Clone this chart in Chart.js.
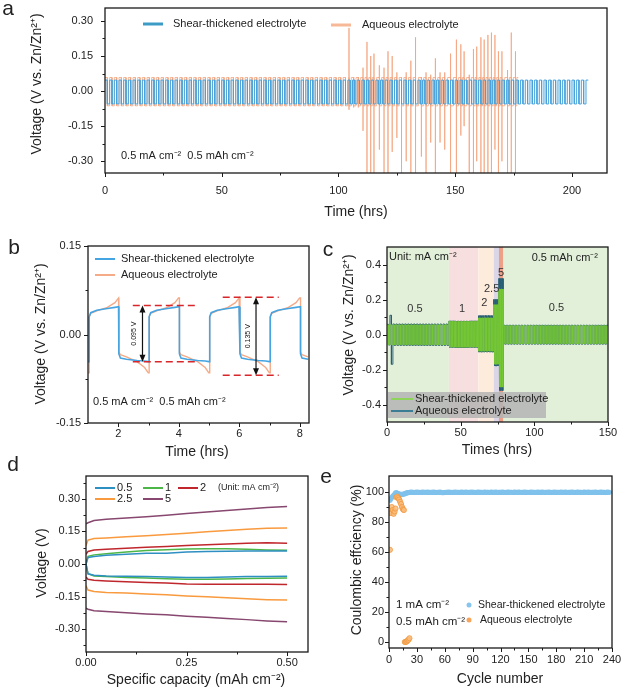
<!DOCTYPE html>
<html>
<head>
<meta charset="utf-8">
<script src="https://cdn.jsdelivr.net/npm/chart.js@4.4.1/dist/chart.umd.min.js"></script>
<style>
  html, body { margin: 0; padding: 0; background: #fff; }
  #fig { position: relative; width: 623px; height: 691px; overflow: hidden; }
  canvas { position: absolute; }
</style>
</head>
<body>
<div id="fig">
  <canvas id="panelA" width="623" height="228" style="left:0;top:0"></canvas>
  <canvas id="panelB" width="318" height="235" style="left:0;top:230px"></canvas>
  <canvas id="panelC" width="305" height="235" style="left:318px;top:230px"></canvas>
  <canvas id="panelD" width="318" height="241" style="left:0;top:450px"></canvas>
  <canvas id="panelE" width="305" height="241" style="left:318px;top:450px"></canvas>
</div>
<script>
// ---------- a: long-term cycling, 0.5 mA cm-2 / 0.5 mAh cm-2 ----------
const aPeriod = 2;                 // h per charge/discharge cycle
const aShearEnd = 207;
const aShearLevels = [0.047, -0.055];
const aAqueousLevels = [0.058, -0.063];
const aAqueousCalmEnd = 104;
const aAqueousEnd = 177;
// aqueous cell: voltage spikes after ~104 h (time, peak high, peak low)
const aSpikeTimes = [104.5, 106.5, 108.5, 110.5, 112.2, 113.8, 115.2, 117.5, 119.5, 121.2,
  123, 125, 127, 129, 131, 133, 135.5, 137.5, 139.5, 141.5, 143.5, 145.5, 148, 150.5, 152.4,
  153.8, 156, 157.8, 159.2, 161, 162.4, 164, 165.5, 167, 168.5, 170, 172.4, 174, 175.8];
const aSpikeHighs = [0.27, 0.06, 0.06, 0.10, 0.21, 0.15, 0.16, 0.11, 0.10, 0.17,
  0.15, 0.08, 0.04, 0.08, 0.13, 0.23, 0.06, 0.08, 0.07, 0.14, 0.08, 0.08, 0.16, 0.22, 0.20,
  0.17, 0.07, 0.18, 0.19, 0.23, 0.22, 0.24, 0.25, 0.24, 0.17, 0.17, 0.09, 0.25, 0.17];
const aSpikeLows = [-0.08, -0.07, -0.07, -0.17, -0.35, -0.35, -0.35, -0.25, -0.35, -0.35,
  -0.26, -0.20, -0.35, -0.30, -0.35, -0.35, -0.28, -0.35, -0.22, -0.35, -0.22, -0.25, -0.35, -0.35, -0.19,
  -0.15, -0.35, -0.35, -0.30, -0.35, -0.35, -0.35, -0.35, -0.25, -0.35, -0.30, -0.35, -0.35, -0.35];

// ---------- b: zoom on a few cycles ----------
const bTimeRange = [1.0, 8.3];
const bSwitchUp = [1.04, 3.02, 5.02, 7.02];
const bSwitchDown = [2.02, 4.02, 6.02, 8.02];
const bHalfT = [0, 0.05, 0.25, 0.6, 0.85, 0.97];     // h after each switch
const bShearCharge = [0.030, 0.037, 0.041, 0.044, 0.046, 0.047];
const bShearDischarge = [-0.033, -0.040, -0.042, -0.044, -0.045, -0.046];
const bAqueousCharge = [0.030, 0.036, 0.040, 0.046, 0.054, 0.062];
const bAqueousDischarge = [-0.030, -0.034, -0.038, -0.046, -0.056, -0.065];
const bGapLabels = ['0.095 V', '0.135 V'];
const bGapFrom = [2.48, 5.45];
const bGapTo = [4.6, 7.3];
const bGapTop = [0.049, 0.063];
const bGapBottom = [-0.046, -0.069];
const bGapArrowX = [2.8, 6.55];

// ---------- c: rate test ----------
const cBandEdges = [0, 42, 62, 72.5, 76, 79, 150];
// segments: start h, end h, period h, high V, low V
const cShearSegs = [
  [0, 42, 2, 0.055, -0.058],
  [42, 62, 1, 0.075, -0.072],
  [62, 72.5, 0.5, 0.095, -0.095],
  [72.5, 76, 0.4, 0.17, -0.17],
  [76, 79, 0.2, 0.26, -0.30],
  [79, 150, 2, 0.05, -0.052],
];
const cAqueousSegs = [
  [0, 2, 2, 0.058, -0.06],
  [2, 4, 2, 0.11, -0.17],
  [4, 42, 2, 0.06, -0.062],
  [42, 62, 1, 0.077, -0.074],
  [62, 72.5, 0.5, 0.108, -0.10],
  [72.5, 76, 0.4, 0.20, -0.18],
  [76, 79, 0.2, 0.32, -0.32],
  [79, 150, 2, 0.053, -0.055],
];
const cRateLabels = ['0.5', '1', '2', '2.5', '5', '0.5'];

// ---------- d: voltage profiles at each current density ----------
const dCapacity = [0, 0.005, 0.02, 0.05, 0.1, 0.15, 0.2, 0.25, 0.3, 0.35, 0.4, 0.45, 0.5];
const dRates = ['0.5', '1', '2', '2.5', '5'];
const dCharge = [
  [0.000, 0.030, 0.035, 0.040, 0.045, 0.050, 0.049, 0.055, 0.057, 0.059, 0.060, 0.060, 0.060],
  [0.000, 0.035, 0.042, 0.047, 0.055, 0.062, 0.066, 0.069, 0.070, 0.070, 0.068, 0.065, 0.063],
  [0.045, 0.058, 0.064, 0.068, 0.073, 0.077, 0.081, 0.085, 0.089, 0.092, 0.096, 0.098, 0.096],
  [0.085, 0.110, 0.117, 0.120, 0.125, 0.130, 0.136, 0.142, 0.148, 0.154, 0.160, 0.164, 0.166],
  [0.185, 0.190, 0.200, 0.206, 0.212, 0.218, 0.224, 0.232, 0.239, 0.246, 0.253, 0.260, 0.265],
];
const dDischarge = [
  [0.000, -0.045, -0.052, -0.055, -0.056, -0.058, -0.060, -0.062, -0.062, -0.060, -0.058, -0.057, -0.056],
  [0.000, -0.045, -0.055, -0.058, -0.062, -0.065, -0.068, -0.070, -0.070, -0.069, -0.067, -0.066, -0.065],
  [-0.060, -0.070, -0.075, -0.078, -0.082, -0.085, -0.088, -0.092, -0.093, -0.093, -0.093, -0.093, -0.094],
  [-0.100, -0.120, -0.127, -0.131, -0.134, -0.138, -0.142, -0.147, -0.151, -0.155, -0.160, -0.164, -0.166],
  [-0.203, -0.208, -0.215, -0.219, -0.224, -0.230, -0.234, -0.240, -0.245, -0.251, -0.256, -0.262, -0.266],
];

// ---------- e: coulombic efficiency per cycle (%) ----------
const eShearCE = [
  94.5, 95.5, 96.5, 97.2, 97.8, 98.5, 99.5, 99.6, 99.2, 98.9, 98.7, 98.5, 98.4, 98.4, 98.5, 98.7, 98.9, 99.2, 99.4, 99.6,
  99.7, 99.8, 99.8, 99.9, 99.8, 99.8, 99.7, 99.8, 99.8, 99.9, 99.8, 99.8, 99.8, 99.7, 99.8, 99.9, 99.8, 99.8, 99.8, 99.8,
  99.8, 99.9, 99.8, 99.7, 99.8, 99.8, 99.8, 99.9, 99.8, 99.8, 99.7, 99.8, 99.8, 99.8, 99.9, 99.8, 99.7, 99.6, 99.7, 99.7,
  99.8, 99.8, 99.8, 99.9, 99.8, 99.8, 99.8, 99.7, 99.8, 99.8, 99.9, 99.8, 99.8, 99.8, 99.8, 99.7, 99.8, 99.9, 99.8, 99.8,
  99.8, 99.8, 99.9, 99.8, 99.7, 99.8, 99.8, 99.8, 99.9, 99.8, 99.8, 99.8, 99.7, 99.8, 99.8, 99.9, 99.8, 99.8, 99.8, 99.8,
  99.7, 99.8, 99.9, 99.8, 99.8, 99.8, 99.8, 99.7, 99.8, 99.9, 99.8, 99.8, 99.8, 99.8, 99.9, 99.8, 99.7, 99.8, 99.8, 99.8,
  99.8, 99.9, 99.8, 99.8, 99.7, 99.8, 99.8, 99.9, 99.8, 99.8, 99.8, 99.8, 99.7, 99.8, 99.9, 99.8, 99.8, 99.8, 99.8, 99.9,
  99.8, 99.7, 99.8, 99.8, 99.8, 99.9, 99.8, 99.8, 99.8, 99.7, 99.8, 99.8, 99.9, 99.8, 99.8, 99.8, 99.8, 99.7, 99.8, 99.9,
  99.8, 99.8, 99.8, 99.8, 99.9, 99.8, 99.7, 99.8, 99.8, 99.8, 99.8, 99.9, 99.8, 99.8, 99.7, 99.8, 99.8, 99.9, 99.8, 99.8,
  99.8, 99.8, 99.7, 99.8, 99.9, 99.8, 99.8, 99.8, 99.8, 99.9, 99.8, 99.7, 99.8, 99.8, 99.8, 99.8, 99.9, 99.8, 99.8, 99.7,
  99.8, 99.8, 99.9, 99.8, 99.8, 99.8, 99.8, 99.7, 99.8, 99.9, 99.8, 99.8, 99.8, 99.8, 99.9, 99.8, 99.7, 99.8, 99.8, 99.8,
  99.8, 99.9, 99.8, 99.8, 99.7, 99.8, 99.8, 99.9, 99.8, 99.8, 99.8, 99.8, 99.7, 99.8, 99.9, 99.8, 99.8,
];
const eAqueousCE = [61.5, 86, 90, 88, 85.5, 87, 89, 96.5, 97, 96, 95, 93.5, 92, 90, 88.5, 88,
  0, 0, 0.3, 1, 1.5, 2.5];

// ---------- helpers ----------
const FONT = '"Liberation Sans", Arial, Helvetica, sans-serif';
Chart.defaults.font.family = FONT;
Chart.defaults.color = '#222';

// charge/discharge plateaus, laid out as steps
function steps(start, end, period, hi, lo) {
  const pts = [];
  for (let t = start; t < end - 1e-9; t += period) {
    const mid = Math.min(t + period / 2, end);
    const stop = Math.min(t + period, end);
    pts.push({ x: t, y: hi }, { x: mid, y: hi });
    if (mid < end) pts.push({ x: mid, y: lo }, { x: stop, y: lo });
  }
  return pts;
}
const fromSegs = segs => segs.flatMap(s => steps(...s));
// note: Chart.js paints dataset 0 last, i.e. on top
const line = (data, color, width, extra) =>
  Object.assign({ data, showLine: true, pointRadius: 0, borderColor: color, borderWidth: width, tension: 0 }, extra || {});

function axis(min, max, values, pad, fmt, fit, horizontal) {
  return {
    type: 'linear', min, max,
    grid: { display: false, drawTicks: false },
    border: { display: false },
    afterBuildTicks: s => { s.ticks = values.map(v => ({ value: v })); },
    afterFit: s => {
      if (horizontal) { s.height = fit; s.paddingLeft = 0; s.paddingRight = 0; }
      else { s.width = fit; s.paddingTop = 0; s.paddingBottom = 0; }
    },
    ticks: { padding: pad, autoSkip: false, maxRotation: 0, font: { size: 11 }, color: '#222', callback: v => fmt(v) },
  };
}

// box round the plot plus outward major/minor ticks
function frame(xMajor, xMinor, yMajor, yMinor) {
  return {
    id: 'frame',
    afterDatasetsDraw(chart) {
      const { ctx, chartArea: a, scales: { x, y } } = chart;
      ctx.save();
      ctx.strokeStyle = '#1a1a1a';
      ctx.lineWidth = 1.3;
      ctx.strokeRect(a.left, a.top, a.right - a.left, a.bottom - a.top);
      ctx.lineWidth = 1;
      const tick = (vals, len, horiz) => vals.forEach(v => {
        ctx.beginPath();
        if (horiz) {
          const p = Math.round(x.getPixelForValue(v)) + 0.5;
          ctx.moveTo(p, a.bottom); ctx.lineTo(p, a.bottom + len);
        } else {
          const p = Math.round(y.getPixelForValue(v)) + 0.5;
          ctx.moveTo(a.left, p); ctx.lineTo(a.left - len, p);
        }
        ctx.stroke();
      });
      tick(xMajor, 4, true); tick(xMinor, 2.5, true);
      tick(yMajor, 4, false); tick(yMinor, 2.5, false);
      ctx.restore();
    }
  };
}

// letters, axis titles, legends, notes
function decor(items) {
  return {
    id: 'decor',
    afterDraw(chart) {
      const { ctx, scales: { x, y } } = chart;
      items.forEach(it => {
        ctx.save();
        if (it.rect) {
          ctx.fillStyle = it.color;
          ctx.fillRect(...it.rect);
        } else if (it.line) {
          ctx.strokeStyle = it.color;
          ctx.lineWidth = it.width || 2;
          ctx.beginPath();
          ctx.moveTo(it.line[0], it.line[2]);
          ctx.lineTo(it.line[1], it.line[2]);
          ctx.stroke();
        } else if (it.dot) {
          ctx.fillStyle = it.color;
          ctx.beginPath();
          ctx.arc(it.dot[0], it.dot[1], it.r || 2.5, 0, Math.PI * 2);
          ctx.fill();
        } else {
          const px = it.data ? x.getPixelForValue(it.at[0]) : it.at[0];
          const py = it.data ? y.getPixelForValue(it.at[1]) : it.at[1];
          ctx.font = (it.size || 11) + 'px ' + FONT;
          ctx.fillStyle = it.color || '#222';
          ctx.textAlign = it.align || 'left';
          ctx.textBaseline = 'middle';
          ctx.translate(px, py);
          if (it.rotate) ctx.rotate(-Math.PI / 2);
          ctx.fillText(it.text, 0, 0);
        }
        ctx.restore();
      });
    }
  };
}

function panel(id, datasets, pad, scales, plugins) {
  return new Chart(document.getElementById(id), {
    type: 'scatter',
    data: { datasets },
    options: {
      responsive: false, animation: false, events: [],
      layout: { padding: { left: 0, top: pad[0], right: pad[1], bottom: 0 } },
      plugins: { legend: { display: false }, tooltip: { enabled: false } },
      scales,
    },
    plugins,
  });
}

const f2 = v => v.toFixed(2);
const f1 = v => v.toFixed(1);
const f0 = v => String(v);
const rangeVals = (a, b, s) => { const r = []; for (let v = a; v <= b + 1e-9; v += s) r.push(+v.toFixed(4)); return r; };

// ---------- panel a ----------
const aShear = steps(0, aShearEnd, aPeriod, aShearLevels[0], aShearLevels[1]);
const aAqueous = steps(0, aAqueousCalmEnd, aPeriod, aAqueousLevels[0], aAqueousLevels[1]);
aSpikeTimes.forEach((t, i) => {
  const next = i + 1 < aSpikeTimes.length ? aSpikeTimes[i + 1] : aAqueousEnd;
  const half = (t + next) / 2;
  aAqueous.push({ x: t, y: aAqueousLevels[0] }, { x: t, y: aSpikeHighs[i] }, { x: t, y: aSpikeLows[i] },
    { x: t, y: aAqueousLevels[1] }, { x: half, y: aAqueousLevels[1] }, { x: half, y: aAqueousLevels[0] },
    { x: next, y: aAqueousLevels[0] });
});
panel('panelA', [
  line(aShear, '#47a3dc', 1),
  line(aAqueous, 'rgba(243,160,120,0.75)', 1),
], [8, 16], {
  x: axis(0, 215, [0, 50, 100, 150, 200], 11, f0, 55, true),
  y: axis(-0.35, 0.355, [-0.3, -0.15, 0, 0.15, 0.3], 12, f2, 105, false),
}, [
  frame([0, 50, 100, 150, 200], [25, 75, 125, 175], [-0.3, -0.15, 0, 0.15, 0.3], [-0.225, -0.075, 0.075, 0.225]),
  decor([
    { text: 'a', at: [8, 9], size: 21, align: 'center' },
    { text: 'Voltage (V vs. Zn/Zn²⁺)', at: [37, 84], size: 14, align: 'center', rotate: true },
    { text: 'Time (hrs)', at: [356, 212], size: 14, align: 'center' },
    { line: [143, 163, 24], color: '#3d9cc6', width: 3 },
    { text: 'Shear-thickened electrolyte', at: [173, 24] },
    { line: [331, 351, 25], color: '#f6b896', width: 3 },
    { text: 'Aqueous electrolyte', at: [362, 25] },
    { text: '0.5 mA cm⁻²  0.5 mAh cm⁻²', at: [121, 156] },
  ]),
]);

// ---------- panel b ----------
function bTrace(charge, discharge) {
  const sw = bSwitchUp.map(t => [t, charge]).concat(bSwitchDown.map(t => [t, discharge]))
    .sort((p, q) => p[0] - q[0]);
  const pts = [{ x: bTimeRange[0], y: discharge[discharge.length - 1] }];
  sw.forEach(([t, vals], i) => {
    const next = i + 1 < sw.length ? sw[i + 1][0] : bTimeRange[1];
    pts.push({ x: t, y: pts[pts.length - 1].y });
    bHalfT.forEach((dt, k) => { if (t + dt <= next) pts.push({ x: t + dt, y: vals[k] }); });
  });
  return pts;
}
const bDash = [];
bGapLabels.forEach((_, i) => {
  [bGapTop[i], bGapBottom[i]].forEach(v => bDash.push(
    line([{ x: bGapFrom[i], y: v }, { x: bGapTo[i], y: v }], '#d8262b', 1.5, { borderDash: [7, 4] })));
});
const bArrows = {
  id: 'arrows',
  afterDatasetsDraw(chart) {
    const { ctx, scales: { x, y } } = chart;
    ctx.save();
    ctx.strokeStyle = '#111'; ctx.fillStyle = '#111'; ctx.lineWidth = 1.2;
    bGapArrowX.forEach((gx, i) => {
      const px = x.getPixelForValue(gx);
      const t = y.getPixelForValue(bGapTop[i]), b = y.getPixelForValue(bGapBottom[i]);
      ctx.beginPath(); ctx.moveTo(px, t + 3); ctx.lineTo(px, b - 3); ctx.stroke();
      ctx.beginPath(); ctx.moveTo(px, t); ctx.lineTo(px - 3, t + 7); ctx.lineTo(px + 3, t + 7); ctx.fill();
      ctx.beginPath(); ctx.moveTo(px, b); ctx.lineTo(px - 3, b - 7); ctx.lineTo(px + 3, b - 7); ctx.fill();
      ctx.font = '7px ' + FONT; ctx.textAlign = 'center'; ctx.textBaseline = 'middle';
      ctx.translate(px - 8, (t + b) / 2);
      ctx.rotate(-Math.PI / 2);
      ctx.fillText(bGapLabels[i], 0, 0);
      ctx.setTransform(1, 0, 0, 1, 0, 0);
    });
    ctx.restore();
  }
};
panel('panelB', [
  ...bDash,
  line(bTrace(bShearCharge, bShearDischarge), '#45a4e2', 1.6),
  line(bTrace(bAqueousCharge, bAqueousDischarge), '#f5ab88', 1.4),
], [16, 9], {
  x: axis(bTimeRange[0], bTimeRange[1], [2, 4, 6, 8], 4, f0, 42, true),
  y: axis(-0.15, 0.15, [-0.15, 0, 0.15], 7, f2, 88, false),
}, [
  frame([2, 4, 6, 8], [3, 5, 7], [-0.15, 0, 0.15], [-0.075, 0.075]),
  bArrows,
  decor([
    { text: 'b', at: [14, 18], size: 21, align: 'center' },
    { text: 'Voltage (V vs. Zn/Zn²⁺)', at: [41.5, 104], size: 14, align: 'center', rotate: true },
    { text: 'Time (hrs)', at: [197, 222], size: 14, align: 'center' },
    { line: [95, 115, 29], color: '#45a4e2', width: 2 },
    { text: 'Shear-thickened electrolyte', at: [121, 29] },
    { line: [95, 115, 45], color: '#f5ab88', width: 2 },
    { text: 'Aqueous electrolyte', at: [121, 45] },
    { text: '0.5 mA cm⁻²  0.5 mAh cm⁻²', at: [93, 172] },
  ]),
]);

// ---------- panel c ----------
const cBandColors = ['#e2f0d9', '#f7dfdf', '#fdebdc', '#dad6e8', '#ee9f88', '#e2f0d9'];
const cBands = {
  id: 'bands',
  beforeDatasetsDraw(chart) {
    const { ctx, chartArea: a, scales: { x } } = chart;
    ctx.save();
    cBandEdges.slice(0, -1).forEach((e, i) => {
      const l = x.getPixelForValue(e), r = x.getPixelForValue(cBandEdges[i + 1]);
      ctx.fillStyle = cBandColors[i];
      ctx.fillRect(l, a.top, r - l, a.bottom - a.top);
    });
    ctx.restore();
  }
};
const cLabelAt = [[19, 0.145], [51, 0.145], [66, 0.18], [71, 0.26], [77.5, 0.35], [115, 0.15]];
panel('panelC', [
  line(fromSegs(cShearSegs), 'rgba(118,200,52,0.9)', 1),
  line(fromSegs(cAqueousSegs), 'rgba(40,95,115,0.95)', 1),
], [17, 15], {
  x: axis(0, 150, [0, 50, 100, 150], 4, f0, 43, true),
  y: axis(-0.5, 0.5, [-0.4, -0.2, 0, 0.2, 0.4], 6, f1, 69, false),
}, [
  cBands,
  frame([0, 50, 100, 150], [25, 75, 125], [-0.4, -0.2, 0, 0.2, 0.4], [-0.3, -0.1, 0.1, 0.3]),
  decor([
    { text: 'c', at: [10, 20], size: 21, align: 'center' },
    { text: 'Voltage (V vs. Zn/Zn²⁺)', at: [31, 95], size: 14, align: 'center', rotate: true },
    { text: 'Times (hrs)', at: [179, 220], size: 14, align: 'center' },
    { text: 'Unit: mA cm⁻²', at: [71, 27] },
    { text: '0.5 mAh cm⁻²', at: [280, 28], align: 'right' },
    ...cRateLabels.map((t, i) => ({ text: t, at: cLabelAt[i], data: true, align: 'center', color: '#333' })),
    { rect: [70, 162, 158, 26], color: 'rgba(180,180,180,0.85)' },
    { line: [73, 95, 169], color: '#8fd45a', width: 2 },
    { text: 'Shear-thickened electrolyte', at: [97, 169] },
    { line: [73, 95, 181], color: '#3b7d93', width: 2 },
    { text: 'Aqueous electrolyte', at: [97, 181] },
  ]),
]);

// ---------- panel d ----------
const dColors = ['#2e8fc2', '#4cb648', '#c0272d', '#f99a3e', '#87476f'];
const dSets = [];
dRates.forEach((r, i) => {
  dSets.push(line(dCapacity.map((c, k) => ({ x: c, y: dCharge[i][k] })), dColors[i], 1.5));
  dSets.push(line(dCapacity.map((c, k) => ({ x: c, y: dDischarge[i][k] })), dColors[i], 1.5));
});
const dLegendAt = [[95, 38], [143, 38], [178, 38], [95, 49], [143, 49]];
panel('panelD', dSets, [26, 10], {
  x: axis(0, 0.552, [0, 0.25, 0.5], 4, f2, 39, true),
  y: axis(-0.405, 0.405, [-0.3, -0.15, 0, 0.15, 0.3], 6, f2, 86, false),
}, [
  frame([0, 0.25, 0.5], [0.125, 0.375], [-0.3, -0.15, 0, 0.15, 0.3], [-0.375, -0.225, -0.075, 0.075, 0.225, 0.375]),
  decor([
    { text: 'd', at: [13, 15], size: 21, align: 'center' },
    { text: 'Voltage (V)', at: [42, 113], size: 14, align: 'center', rotate: true },
    { text: 'Specific capacity (mAh cm⁻²)', at: [196, 230], size: 14, align: 'center' },
    ...dRates.flatMap((r, i) => [
      { line: [dLegendAt[i][0], dLegendAt[i][0] + 20, dLegendAt[i][1]], color: dColors[i], width: 2 },
      { text: r, at: [dLegendAt[i][0] + 22, dLegendAt[i][1]] },
    ]),
    { text: '(Unit: mA cm⁻²)', at: [218, 38], size: 9 },
  ]),
]);

// ---------- panel e ----------
panel('panelE', [
  { data: eAqueousCE.map((v, i) => ({ x: i + 1, y: v })), pointRadius: 2.6, pointBorderWidth: 0.8,
    pointBackgroundColor: 'rgba(250,188,120,0.85)', pointBorderColor: '#f0973f' },
  { data: eShearCE.map((v, i) => ({ x: i + 1, y: v })), pointRadius: 2.6, pointBorderWidth: 0,
    pointBackgroundColor: 'rgba(128,194,236,0.9)' },
], [26, 11], {
  x: axis(0, 240, rangeVals(0, 240, 30), 5, f0, 43, true),
  y: axis(-4, 110.7, rangeVals(0, 100, 20), 5, f0, 71, false),
}, [
  frame(rangeVals(0, 240, 30), rangeVals(15, 225, 30), rangeVals(0, 100, 20), rangeVals(10, 90, 20)),
  decor([
    { text: 'e', at: [8, 27], size: 21, align: 'center' },
    { text: 'Coulombic effciency (%)', at: [39, 110], size: 14, align: 'center', rotate: true },
    { text: 'Cycle number', at: [182, 229], size: 14, align: 'center' },
    { text: '1 mA cm⁻²', at: [78, 155], size: 11.5 },
    { text: '0.5 mAh cm⁻²', at: [78, 172], size: 11.5 },
    { dot: [151, 155], color: 'rgba(128,194,236,0.95)' },
    { text: 'Shear-thickened electrolyte', at: [160, 155], size: 10.5 },
    { dot: [151, 170], color: '#f6a55a' },
    { text: 'Aqueous electrolyte', at: [162, 170], size: 10.5 },
  ]),
]);
</script>
</body>
</html>
